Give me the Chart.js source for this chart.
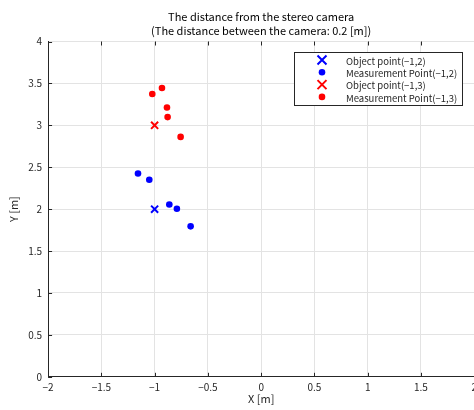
<!DOCTYPE html>
<html>
<head>
<meta charset="utf-8">
<script src="https://cdn.jsdelivr.net/npm/chart.js@4.4.0/dist/chart.umd.min.js"></script>
<style>
  html, body { margin: 0; padding: 0; background: #fff; overflow: hidden; }
  #wrap { width: 474px; height: 410px; overflow: hidden; position: relative; }
  #box { width: 482px; height: 410px; position: absolute; left: 0; top: 0; }
</style>
</head>
<body>
<div id="wrap"><div id="box"><canvas id="grafico"></canvas></div></div>
<script>
const titulo = ['The distance from the stereo camera', '(The distance between the camera: 0.2 [m])'];
const rotulos = ['Object point(\u22121,2)', 'Measurement Point(\u22121,2)', 'Object point(\u22121,3)', 'Measurement Point(\u22121,3)'];

const objeto1X = [-1];
const objeto1Y = [2];
const medida1X = [-1.156, -1.05, -0.862, -0.791, -0.662];
const medida1Y = [2.425, 2.350, 2.055, 2.004, 1.795];

const objeto2X = [-1];
const objeto2Y = [3];
const medida2X = [-1.022, -0.931, -0.884, -0.878, -0.756];
const medida2Y = [3.374, 3.445, 3.213, 3.098, 2.862];

const xTicks = [-2, -1.5, -1, -0.5, 0, 0.5, 1, 1.5, 2];
const yTicks = [0, 0.5, 1, 1.5, 2, 2.5, 3, 3.5, 4];

const fonte = "'Noto Sans CJK JP', 'DejaVu Sans', sans-serif";
const pontos = (xs, ys) => xs.map((x, i) => ({ x: x, y: ys[i] }));
const menos = v => String(v).replace('-', '\u2212');

const cores = ['#0000ff', '#0000ff', '#ff0000', '#ff0000'];
const estilos = ['crossRot', 'circle', 'crossRot', 'circle'];

// legenda desenhada à mão, com moldura como no MATLAB
const legendaPlugin = {
    id: 'legendaCaixa',
    afterDraw(chart) {
        const ctx = chart.ctx;
        const x0 = 294, y0 = 52, w = 168, h = 53;
        ctx.save();
        ctx.fillStyle = '#fff';
        ctx.fillRect(x0, y0, w, h);
        ctx.strokeStyle = '#262626';
        ctx.lineWidth = 1;
        ctx.strokeRect(x0 + 0.5, y0 + 0.5, w, h);
        ctx.font = '9.5px ' + fonte;
        ctx.textBaseline = 'middle';
        rotulos.forEach((r, i) => {
            const cy = y0 + 8 + i * 12.3;
            const cx = x0 + 28;
            ctx.strokeStyle = cores[i];
            ctx.fillStyle = cores[i];
            if (estilos[i] === 'crossRot') {
                ctx.lineWidth = 2;
                ctx.beginPath();
                ctx.moveTo(cx - 4.5, cy - 4.5); ctx.lineTo(cx + 4.5, cy + 4.5);
                ctx.moveTo(cx + 4.5, cy - 4.5); ctx.lineTo(cx - 4.5, cy + 4.5);
                ctx.stroke();
            } else {
                ctx.beginPath();
                ctx.arc(cx, cy, 3.3, 0, Math.PI * 2);
                ctx.fill();
            }
            ctx.fillStyle = '#262626';
            ctx.fillText(r, x0 + 52, cy + 1);
        });
        ctx.restore();
    }
};

// marcas de escala para dentro
const marcasPlugin = {
    id: 'marcasDentro',
    afterDatasetsDraw(chart) {
        const ctx = chart.ctx;
        const a = chart.chartArea;
        const sx = chart.scales.x, sy = chart.scales.y;
        ctx.save();
        ctx.strokeStyle = '#262626';
        ctx.lineWidth = 1;
        ctx.beginPath();
        xTicks.forEach(t => {
            const px = Math.round(sx.getPixelForValue(t)) + 0.5;
            ctx.moveTo(px, a.bottom); ctx.lineTo(px, a.bottom - 4);
            ctx.moveTo(px, a.top); ctx.lineTo(px, a.top + 4);
        });
        yTicks.forEach(t => {
            const py = Math.round(sy.getPixelForValue(t)) + 0.5;
            ctx.moveTo(a.left, py); ctx.lineTo(a.left + 4, py);
        });
        ctx.stroke();
        ctx.restore();
    }
};

new Chart(document.getElementById('grafico'), {
    type: 'scatter',
    data: {
        datasets: [
            { label: rotulos[0], data: pontos(objeto1X, objeto1Y), pointStyle: 'crossRot', pointRadius: 5, borderColor: cores[0], backgroundColor: cores[0], borderWidth: 2 },
            { label: rotulos[1], data: pontos(medida1X, medida1Y), pointStyle: 'circle', pointRadius: 3.3, borderColor: cores[1], backgroundColor: cores[1], borderWidth: 0 },
            { label: rotulos[2], data: pontos(objeto2X, objeto2Y), pointStyle: 'crossRot', pointRadius: 5, borderColor: cores[2], backgroundColor: cores[2], borderWidth: 2 },
            { label: rotulos[3], data: pontos(medida2X, medida2Y), pointStyle: 'circle', pointRadius: 3.3, borderColor: cores[3], backgroundColor: cores[3], borderWidth: 0 }
        ]
    },
    options: {
        responsive: true,
        maintainAspectRatio: false,
        animation: false,
        layout: { padding: { left: 7, right: 0, top: 6, bottom: 5 } },
        plugins: {
            legend: { display: false },
            tooltip: { enabled: false },
            title: {
                display: true,
                text: titulo,
                fullSize: false,
                color: '#000',
                font: { family: fonte, size: 11, weight: 'normal', lineHeight: 1.25 },
                padding: { top: 4, bottom: 4 }
            }
        },
        scales: {
            x: {
                type: 'linear',
                min: -2, max: 2,
                afterBuildTicks: s => { s.ticks = xTicks.map(v => ({ value: v })); },
                ticks: { color: '#262626', font: { family: fonte, size: 10, lineHeight: 1 }, padding: 5, maxRotation: 0, callback: v => menos(v) },
                grid: { color: '#e3e3e3', drawTicks: false },
                border: { color: '#262626', width: 1 },
                title: { display: true, text: 'X [m]', color: '#262626', font: { family: fonte, size: 11 }, padding: { top: -5, bottom: 0 } }
            },
            y: {
                type: 'linear',
                min: 0, max: 4,
                afterBuildTicks: s => { s.ticks = yTicks.map(v => ({ value: v })); },
                ticks: { color: '#262626', font: { family: fonte, size: 10 }, padding: 6, callback: v => menos(v) },
                grid: { color: '#e3e3e3', drawTicks: false },
                border: { color: '#262626', width: 1 },
                title: { display: true, text: 'Y [m]', color: '#262626', font: { family: fonte, size: 11 }, padding: { top: 0, bottom: 2 } }
            }
        }
    },
    plugins: [marcasPlugin, legendaPlugin]
});
</script>
</body>
</html>
